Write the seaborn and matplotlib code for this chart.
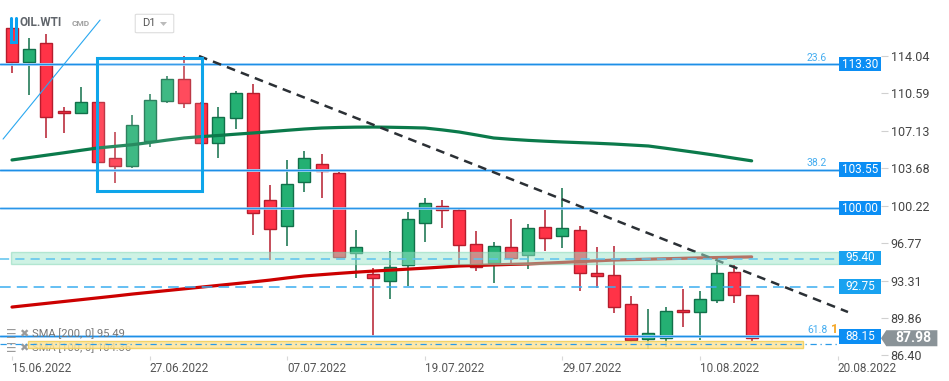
import numpy as np
import pandas as pd
import matplotlib
matplotlib.use('Agg')
import matplotlib.pyplot as plt
import matplotlib.transforms as mtransforms
from matplotlib.patches import Rectangle, Polygon, FancyBboxPatch
import seaborn as sns

# daily OHLC, OIL.WTI
opens = [116.63, 113.49, 115.24, 108.96, 108.82, 109.79, 104.62, 103.88, 106.19, 109.88,
         111.92, 109.70, 106.01, 108.32, 110.62, 100.74, 98.34, 102.41, 104.07, 103.24,
         95.85, 93.91, 93.27, 94.74, 98.62, 100.19, 99.82, 96.68, 94.93, 96.40,
         95.66, 98.25, 97.42, 97.97, 94.00, 93.82, 91.14, 87.91, 88.00, 90.59,
         90.40, 91.51, 94.10, 91.97]
highs = [117.00, 115.70, 116.07, 109.33, 111.18, 109.88, 107.02, 108.59, 110.53, 112.19,
         114.04, 109.80, 109.33, 110.81, 111.45, 102.13, 104.44, 105.27, 104.99, 103.33,
         97.97, 94.46, 96.03, 99.64, 100.93, 100.74, 99.90, 97.88, 96.87, 98.99,
         98.53, 99.82, 101.85, 98.34, 96.40, 96.50, 91.88, 90.68, 90.86, 92.53,
         92.34, 95.02, 94.74, 91.97]
lows = [112.47, 110.44, 106.47, 106.93, 108.78, 104.15, 102.31, 103.70, 105.64, 109.70,
        109.24, 105.95, 104.62, 107.30, 97.51, 95.20, 96.50, 101.48, 100.93, 95.39,
        93.54, 88.19, 91.60, 92.80, 96.87, 98.16, 94.56, 94.19, 93.08, 94.93,
        94.37, 96.03, 96.31, 92.34, 92.62, 90.31, 87.63, 86.99, 87.17, 89.02,
        87.82, 91.23, 91.23, 87.72]
closes = [113.49, 114.69, 108.41, 108.78, 109.79, 104.25, 103.88, 107.67, 109.98, 111.92,
          109.70, 106.01, 108.41, 110.62, 99.54, 98.07, 102.22, 104.62, 103.42, 95.48,
          96.40, 93.54, 94.56, 98.99, 100.47, 99.82, 96.59, 94.56, 96.50, 95.39,
          98.16, 97.23, 98.16, 94.00, 93.73, 90.86, 87.82, 88.46, 90.49, 90.40,
          91.60, 94.00, 91.97, 87.98]
sma100 = [104.44, 104.66, 104.88, 105.10, 105.33, 105.55, 105.70, 105.85, 106.05, 106.27,
          106.47, 106.60, 106.70, 106.82, 106.93, 107.05, 107.18, 107.30, 107.39, 107.44,
          107.47, 107.48, 107.46, 107.43, 107.39, 107.22, 107.02, 106.75, 106.47, 106.35,
          106.25, 106.17, 106.10, 106.04, 105.98, 105.91, 105.82, 105.73, 105.52, 105.30,
          105.08, 104.85, 104.60, 104.36]
sma200 = [90.86, 91.03, 91.20, 91.37, 91.54, 91.71, 91.88, 92.06, 92.22, 92.38,
          92.54, 92.70, 92.86, 93.02, 93.18, 93.35, 93.55, 93.73, 93.85, 93.97,
          94.08, 94.18, 94.27, 94.36, 94.45, 94.55, 94.65, 94.70, 94.75, 94.80,
          94.84, 94.91, 94.98, 95.06, 95.13, 95.20, 95.24, 95.28, 95.32, 95.36,
          95.40, 95.43, 95.46, 95.49]

date_ticks = [0, 8, 16, 24, 32, 40, 48]
date_labels = ['15.06.2022', '27.06.2022', '07.07.2022', '19.07.2022',
               '29.07.2022', '10.08.2022', '20.08.2022']
price_ticks = [86.40, 89.86, 93.31, 96.77, 100.22, 103.68, 107.13, 110.59, 114.04]

fib_levels = [113.30, 103.55, 88.15]
fib_names = ['23.6', '38.2', '61.8']
solid_levels = [100.00]
dashed_levels = [92.75]
zone_level = 95.40
last_price = 87.98
sma200_last = 95.49
sma100_last = 104.36

# trend line / drawings (index, price)
trend_x = [10.87, 48.6]
trend_y = [114.04, 90.40]
chan_x = [-0.52, 5.12]
chan_y = [106.37, 117.36]
box_x = [4.94, 11.05]
box_y = [101.57, 113.86]

sns.set_theme(style='white')
plt.rcParams['font.family'] = ['Roboto', 'DejaVu Sans']

df = pd.DataFrame({'open': opens, 'high': highs, 'low': lows, 'close': closes,
                   'sma100': sma100, 'sma200': sma200})
df['idx'] = np.arange(len(df))

W, H = 881.0, 356.0


def axpt(px, py):
    return px / W, 1 - py / H


fig = plt.figure(figsize=(9.49, 3.81), dpi=100)
ax = fig.add_axes([0, 25 / 381, W / 949, H / 381])
ax.set_facecolor('white')
ax.set_xlim(-0.698, 50.52)
ax.set_ylim(86.34, 119.21)
for s in ax.spines.values():
    s.set_visible(False)

# candles
red_fc, red_ec = '#ff3347', '#b51d2d'
grn_fc, grn_ec = '#24b073', '#11704a'
for _, r in df.iterrows():
    up = r['close'] >= r['open']
    fc, ec = (grn_fc, grn_ec) if up else (red_fc, red_ec)
    ax.vlines(r['idx'], r['low'], r['high'], color=ec, lw=1.1, zorder=2)
    lo = min(r['open'], r['close'])
    h = max(abs(r['close'] - r['open']), 0.12)
    ax.add_patch(Rectangle((r['idx'] - 0.35, lo), 0.7, h, fc=fc, ec=ec, lw=1, zorder=2.5))

# moving averages
sns.lineplot(data=df, x='idx', y='sma100', ax=ax, color='#0b7a4b', lw=2.3, zorder=3)
sns.lineplot(data=df, x='idx', y='sma200', ax=ax, color='#cc0000', lw=2.3, zorder=3)
ax.set_xlabel('')
ax.set_ylabel('')

blend = mtransforms.blended_transform_factory(ax.transAxes, ax.transData)
right = 839 / W

# horizontal levels
for lv in fib_levels:
    ax.axhline(lv, xmin=0, xmax=right, color='#a9d6fa', lw=2.0, zorder=4)
    ax.axhline(lv, xmin=0, xmax=right, color='#1e8fe6', lw=0.9, zorder=4)
for lv in solid_levels:
    ax.axhline(lv, xmin=0, xmax=right, color='#a9d6fa', lw=1.8, zorder=4)
    ax.axhline(lv, xmin=0, xmax=right, color='#2a96e8', lw=0.9, zorder=4)
for lv in dashed_levels:
    ax.axhline(lv, xmin=0, xmax=right, color='#3aaef0', lw=1.1, dashes=(7, 4), zorder=4)

# support zone 95.40
ax.add_patch(Rectangle((11 / W, zone_level - 0.52), 828 / W, 1.02, transform=blend,
                       fc='#9fe6cb', ec='#7fd6b2', lw=1, alpha=0.5, zorder=5))
ax.axhline(zone_level - 0.1, xmin=0, xmax=right, color='#5cc2ee', lw=1.1,
           dashes=(6, 4), zorder=5)

# yellow zone
ax.add_patch(Rectangle((28 / W, 87.08), 775 / W, 0.64, transform=blend,
                       fc='#fde59a', ec='#f2cd55', lw=1, alpha=0.85, zorder=5))
ax.axhline(87.45, xmin=0, xmax=right, color='#2a9ae8', lw=0.9, dashes=(5, 3, 1, 3), zorder=5)

# trend line and drawings
ax.plot(trend_x, trend_y, color='#2b3035', lw=1.8, dashes=(3.5, 2.5), zorder=4)
ax.plot(chan_x, chan_y, color='#2aa8f0', lw=0.8, zorder=4)
ax.add_patch(Rectangle((box_x[0], box_y[0]), box_x[1] - box_x[0], box_y[1] - box_y[0],
                       fc=(1, 1, 1, 0.12), ec='#0ea5ea', lw=2.2, zorder=6))

# price boxes on the right edge
box_cols = {113.30: '#0b8ef4', 103.55: '#0b8ef4', 100.00: '#0b8ef4', 88.15: '#0b8ef4',
            95.40: '#19a2f0', 92.75: '#19a2f0'}
for lv, col in box_cols.items():
    ax.add_patch(Rectangle((right, lv - 0.68), 1 - right, 1.36, transform=blend,
                           fc=col, ec='none', zorder=7, clip_on=False))
    ax.text((right + 1) / 2, lv, f'{lv:.2f}', transform=blend, ha='center', va='center',
            color='white', fontsize=8.5, zorder=8)

for name, lv in zip(fib_names, fib_levels):
    ax.text(817 / W, lv + 0.6, name, transform=blend, ha='center', va='center',
            color='#45adf0', fontsize=7.5, zorder=8)
ax.text(835 / W, 88.75, '1', transform=blend, ha='center', va='center',
        color='#f5a623', fontsize=9, fontweight='bold', zorder=8)

# last price marker
pts = [(1.0, last_price), (1.006, last_price + 0.74), (1.064, last_price + 0.74),
       (1.064, last_price - 0.74), (1.006, last_price - 0.74)]
ax.add_patch(Polygon(pts, closed=True, transform=blend, fc='#8a9398', ec='none',
                     zorder=9, clip_on=False))
ax.text(913 / W, last_price, f'{last_price:.2f}', transform=blend, ha='center',
        va='center', color='white', fontsize=10, fontweight='bold', zorder=10)

# axes ticks
ax.yaxis.tick_right()
ax.set_yticks(price_ticks, [f'{v:.2f}' for v in price_ticks])
ax.tick_params(axis='y', length=5, width=0.8, color='#d0d0d0', labelcolor='#444444',
               labelsize=9, pad=2, right=True, left=False)
ax.set_xticks(date_ticks, date_labels)
for lbl in ax.get_xticklabels():
    lbl.set_ha('left')
ax.tick_params(axis='x', length=3, width=0.8, color='#d8d8d8', labelcolor='#555555',
               labelsize=8.5, pad=1, bottom=True)

# legend lines for indicators
for py, txt in [(334, f'SMA [200, 0] {sma200_last:.2f}'),
                (348, f'SMA [100, 0] {sma100_last:.2f}')]:
    ax.text(*axpt(6, py), '\u2630', transform=ax.transAxes, ha='left', va='center',
            color='#9a9a9a', fontsize=8.5, family=['DejaVu Sans'], zorder=4.5)
    ax.text(*axpt(19, py), '\u2716', transform=ax.transAxes, ha='left', va='center',
            color='#9a9a9a', fontsize=8, family=['DejaVu Sans'], zorder=4.5)
    ax.text(*axpt(32, py), txt, transform=ax.transAxes, ha='left', va='center',
            color='#777777', fontsize=8, zorder=4.5)

# header
ax.plot(*zip(axpt(11, 18), axpt(11, 42), axpt(16, 42), axpt(16, 18)),
        transform=ax.transAxes, color='#0aa0f0', lw=2.2, solid_joinstyle='miter',
        zorder=9, clip_on=False)
ax.text(*axpt(20, 23), 'OIL.WTI', transform=ax.transAxes, ha='left', va='center',
        color='#60656b', fontsize=8.5, fontweight='bold', zorder=9)
ax.text(*axpt(72, 24), 'CMD', transform=ax.transAxes, ha='left', va='center',
        color='#a0a0a0', fontsize=6, fontweight='bold', zorder=9)
ax.add_patch(FancyBboxPatch(axpt(137, 32), 35 / W, 17 / H, boxstyle='round,pad=0.002',
                            transform=ax.transAxes, fc='white', ec='#dddddd', lw=0.8,
                            zorder=9))
ax.text(*axpt(142, 23.5), 'D1', transform=ax.transAxes, ha='left', va='center',
        color='#555555', fontsize=8, zorder=10)
ax.add_patch(Polygon([axpt(160, 22), axpt(167, 22), axpt(163.5, 26)], closed=True,
                     transform=ax.transAxes, fc='#bbbbbb', ec='none', zorder=10))

fig.savefig('out.png', dpi=100)
